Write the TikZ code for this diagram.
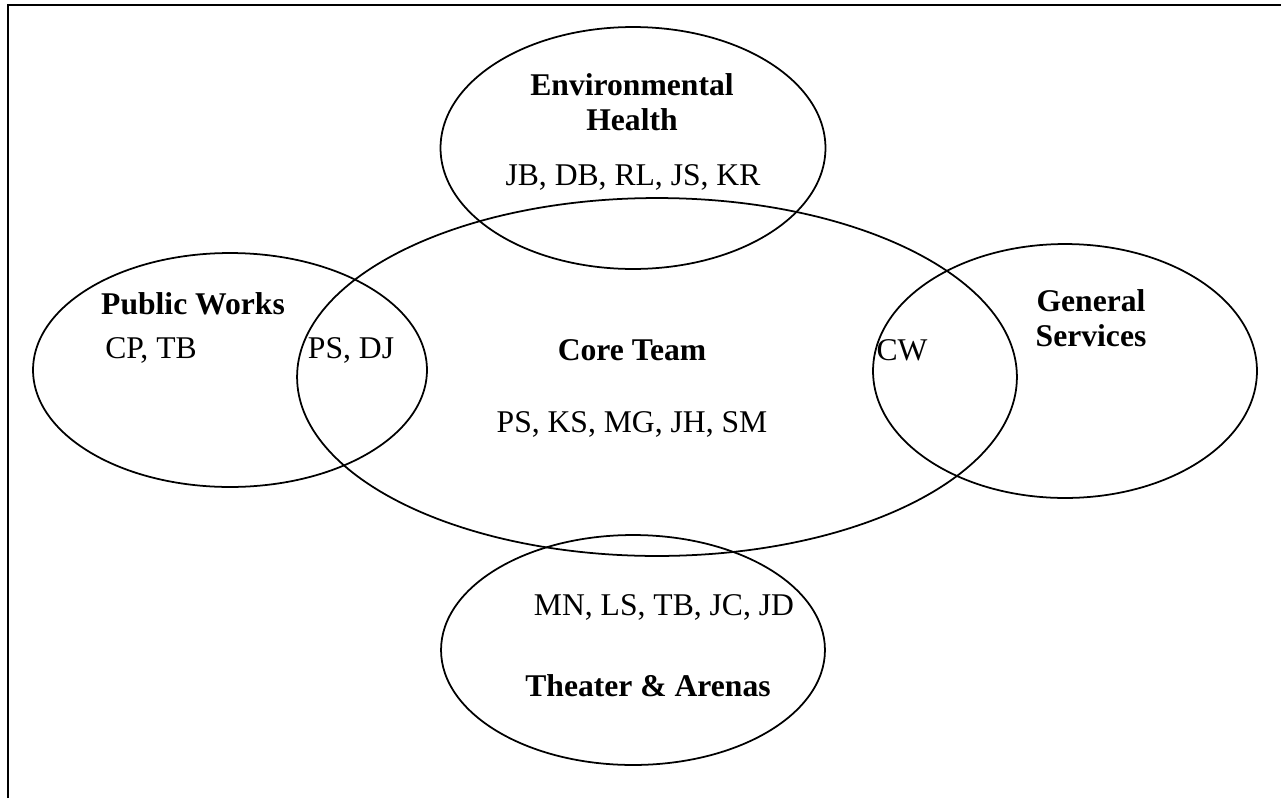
\documentclass[tikz,border=0pt]{standalone}
\usepackage{fontspec}
\setmainfont{Liberation Serif}
\usetikzlibrary{positioning}

\begin{document}
\begin{tikzpicture}[
  x=0.02cm, y=-0.02cm,
  ring/.style={draw,line width=1pt},
  head/.style={font=\fontsize{18}{20}\selectfont\bfseries,align=center,inner sep=0pt},
  team/.style={font=\fontsize{18}{20}\selectfont,inner sep=0pt}
]
\useasboundingbox (0,0) rectangle (1281,798);
% frame
\draw[line width=1.3pt] (8,798) -- (8,5) -- (1281,5);
% circles
\draw[ring] (657,377) ellipse [x radius=7.20cm, y radius=3.58cm];
\draw[ring] (633,148) ellipse [x radius=3.85cm, y radius=2.42cm];
\draw[ring] (230,370) ellipse [x radius=3.94cm, y radius=2.34cm];
\draw[ring] (1065,371) ellipse [x radius=3.84cm, y radius=2.54cm];
\draw[ring] (633,650) ellipse [x radius=3.84cm, y radius=2.30cm];
% labels
\node[head] (env) at (632,102) {Environmental\\Health};
\node[team] (envm) at (633,177) {JB, DB, RL, JS, KR};
\node[head] (pw) at (193,304) {Public Works};
\node[team] (pwm) at (151,350) {CP, TB};
\node[team] (pwc) at (351,350) {PS, DJ};
\node[head] (core) at (632,350) {Core Team};
\node[team] (corem) at (632,424) {PS, KS, MG, JH, SM};
\node[team] (gsc) at (902,350) {CW};
\node[head] (gs) at (1091,318) {General\\Services};
\node[team] (tam) at (664,607) {MN, LS, TB, JC, JD};
\node[head] (ta) at (648,686) {Theater \& Arenas};
\end{tikzpicture}
\end{document}
